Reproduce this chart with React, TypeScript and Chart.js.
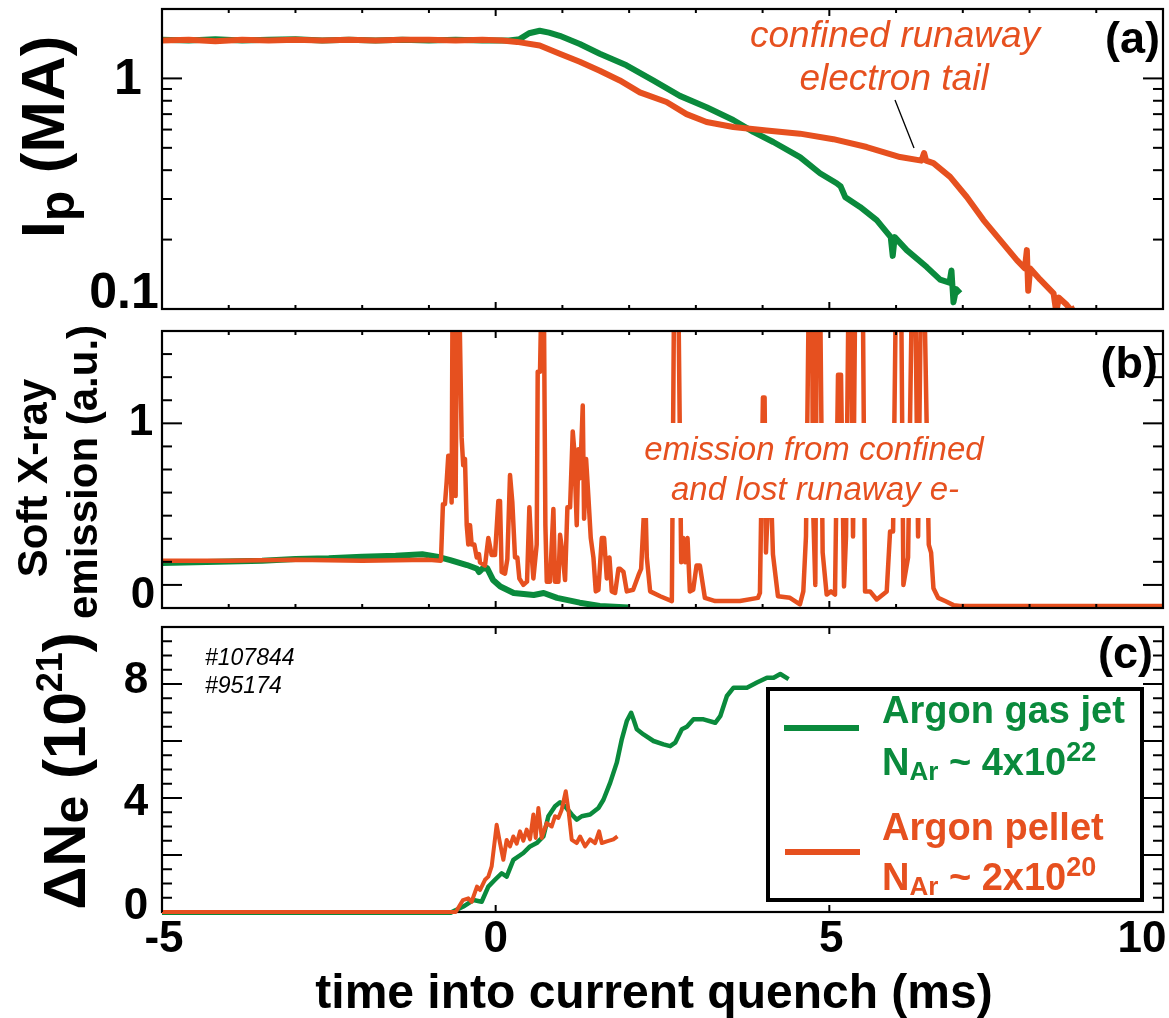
import React, { useEffect, useRef } from 'react';
import { Chart, registerables } from 'chart.js';

Chart.register(...registerables);

type Pt = [number, number];

const W = 1169;
const H = 1018;
const PLOT_LEFT = 162;
const PLOT_RIGHT = 1163;
const GREEN = '#0a8a3c';
const ORANGE = '#e6501f';
const FONT = '"Liberation Sans", Arial, Helvetica, sans-serif';

// ---------- shared time axis (ms) ----------
const timeRange = [-5, 10];
const timeMajorTicks = [-5, 0, 5, 10];
const timeTickLabels = ['-5', '0', '5', '10'];
const timeMinorTicks = [-4, -3, -2, -1, 1, 2, 3, 4, 6, 7, 8, 9];
const timeLabelNudge = [2, 0, 2, -21];

// ---------- panel (a): plasma current Ip (MA), log scale ----------
const ipRange = [0.1, 2];
const ipLabelTicks = [0.1, 1];
const ipTickLabels = ['0.1', '1'];
const ipMajorTicks = [1];
const ipMinorTicks = [0.2, 0.3, 0.4, 0.5, 0.6, 0.7, 0.8, 0.9];
const ipGasJet: Pt[] = [
  [-5.0, 1.47], [-4.6, 1.46], [-4.2, 1.48], [-3.8, 1.46], [-3.4, 1.47], [-3.0, 1.48], [-2.6, 1.46],
  [-2.2, 1.47], [-1.8, 1.46], [-1.4, 1.47], [-1.0, 1.46], [-0.6, 1.47], [-0.2, 1.46], [0.2, 1.46],
  [0.36, 1.48], [0.5, 1.57], [0.66, 1.61], [0.8, 1.58], [0.96, 1.53], [1.26, 1.41], [1.56, 1.28],
  [1.96, 1.14], [2.36, 0.98], [2.76, 0.84], [3.16, 0.75], [3.56, 0.66], [3.86, 0.586], [4.16, 0.53],
  [4.56, 0.456], [4.86, 0.388], [5.11, 0.351], [5.17, 0.34], [5.24, 0.305], [5.46, 0.277], [5.71, 0.243],
  [5.92, 0.205], [5.95, 0.17], [5.98, 0.205], [6.16, 0.18], [6.46, 0.152], [6.66, 0.134], [6.8, 0.13],
  [6.83, 0.147], [6.86, 0.107], [6.9, 0.122], [6.96, 0.117],
];
const ipPellet: Pt[] = [
  [-5.0, 1.46], [-4.6, 1.47], [-4.2, 1.45], [-3.8, 1.47], [-3.4, 1.46], [-3.0, 1.47], [-2.6, 1.46],
  [-2.2, 1.47], [-1.8, 1.46], [-1.4, 1.47], [-1.0, 1.47], [-0.6, 1.46], [-0.2, 1.47], [0.1, 1.46],
  [0.32, 1.44], [0.66, 1.39], [0.96, 1.28], [1.26, 1.18], [1.56, 1.08], [1.86, 0.98], [2.16, 0.87],
  [2.56, 0.79], [2.86, 0.70], [3.16, 0.647], [3.56, 0.616], [4.06, 0.595], [4.56, 0.576], [5.06, 0.545],
  [5.56, 0.504], [6.06, 0.456], [6.38, 0.44], [6.42, 0.475], [6.45, 0.44], [6.56, 0.429], [6.81, 0.374],
  [7.06, 0.306], [7.31, 0.243], [7.56, 0.199], [7.81, 0.163], [7.93, 0.15], [7.96, 0.18], [7.98, 0.12],
  [8.01, 0.15], [8.16, 0.134], [8.36, 0.117], [8.4, 0.097], [8.44, 0.112], [8.56, 0.104], [8.62, 0.099],
  [8.68, 0.101],
];

// ---------- panel (b): soft X-ray emission (a.u.) ----------
const sxrRange = [-1 / 7, 11 / 7];
const sxrLabelTicks = [0, 1];
const sxrTickLabels = ['0', '1'];
const sxrMajorTicks = [0, 1];
const sxrMinorTicks = [-1 / 7, 1 / 7, 2 / 7, 3 / 7, 4 / 7, 5 / 7, 6 / 7, 8 / 7, 9 / 7, 10 / 7, 11 / 7];
const sxrGasJet: Pt[] = [
  [-5, 0.135], [-4.5, 0.14], [-4, 0.145], [-3.5, 0.15], [-3, 0.16], [-2.5, 0.165], [-2, 0.175],
  [-1.5, 0.18], [-1.1, 0.19], [-0.88, 0.175], [-0.68, 0.154], [-0.43, 0.123], [-0.28, 0.10], [-0.25, 0.08],
  [-0.2, 0.1], [-0.13, 0.105], [-0.04, 0.031], [0.07, -0.01], [0.27, -0.05], [0.57, -0.062], [0.72, -0.05],
  [0.92, -0.08], [1.26, -0.11], [1.56, -0.13], [1.99, -0.14],
];
const sxrPellet: Pt[] = [
  [-5, 0.15], [-4, 0.15], [-3, 0.155], [-2, 0.15], [-1, 0.155], [-0.82, 0.15],
  [-0.79, 0.50], [-0.76, 0.5], [-0.734, 0.64], [-0.71, 0.80], [-0.68, 0.80], [-0.66, 0.51],
  [-0.645, 1.9], [-0.62, 1.9], [-0.6, 0.55], [-0.575, 1.9], [-0.55, 1.9], [-0.51, 0.91], [-0.486, 0.74],
  [-0.46, 0.78], [-0.434, 0.37], [-0.41, 0.25], [-0.384, 0.37], [-0.36, 0.25], [-0.32, 0.25], [-0.284, 0.17],
  [-0.25, 0.19], [-0.235, 0.14], [-0.16, 0.12], [-0.11, 0.29], [-0.06, 0.185], [-0.01, 0.185], [0.04, 0.52],
  [0.065, 0.52], [0.09, 0.08], [0.14, 0.07], [0.175, 0.16], [0.215, 0.68], [0.25, 0.51], [0.29, 0.17],
  [0.325, 0.17], [0.355, 0.04], [0.415, 0.0], [0.47, 0.02], [0.505, 0.48], [0.54, 0.185], [0.565, 0.04],
  [0.615, 0.25], [0.63, 1.32], [0.665, 1.32], [0.69, 1.9], [0.72, 1.9], [0.745, 0.37], [0.766, 0.02],
  [0.815, 0.02], [0.865, 0.47], [0.89, 0.02], [0.94, 0.02], [0.965, 0.31], [1.0, 0.2], [1.04, 0.03],
  [1.075, 0.48], [1.115, 0.48], [1.155, 0.95], [1.175, 0.85], [1.215, 0.37], [1.24, 0.84], [1.265, 0.66],
  [1.305, 1.11], [1.325, 0.41], [1.355, 0.78], [1.39, 0.54], [1.425, 0.29], [1.465, 0.17], [1.5, -0.04],
  [1.54, -0.03], [1.59, 0.29], [1.625, 0.29], [1.665, 0.04], [1.705, 0.17], [1.74, -0.04], [1.79, -0.05],
  [1.84, 0.1], [1.865, 0.1], [1.915, 0.08], [1.965, -0.04], [2.06, -0.03], [2.14, 0.06], [2.18, 0.1],
  [2.21, 0.35], [2.24, 0.6], [2.265, 0.17], [2.315, -0.04], [2.465, -0.07], [2.64, -0.10], [2.675, 1.9],
  [2.735, 1.9], [2.78, 0.14], [2.81, 0.29], [2.84, 0.14], [2.875, 0.29], [2.91, -0.04], [2.96, -0.03],
  [3.01, 0.12], [3.06, 0.12], [3.135, -0.08], [3.29, -0.10], [3.66, -0.10], [3.93, -0.08], [3.96, -0.05],
  [4.005, 1.16], [4.03, 1.16], [4.05, 0.2], [4.11, 0.8], [4.155, 0.19], [4.23, -0.07], [4.41, -0.08],
  [4.56, -0.12], [4.61, -0.04], [4.65, 0.3], [4.695, 1.9], [4.74, 1.9], [4.755, 0.5], [4.79, 0.0],
  [4.815, 1.9], [4.86, 1.9], [4.9, 0.2], [4.96, -0.06], [5.025, -0.04], [5.085, -0.06], [5.13, 1.30],
  [5.175, 1.30], [5.22, -0.01], [5.25, 0.3], [5.29, 1.9], [5.325, 1.9], [5.355, 0.3], [5.39, 1.9],
  [5.5, 1.9], [5.535, -0.04], [5.61, -0.04], [5.71, -0.09], [5.86, -0.04], [5.91, 0.33], [5.955, 0.33],
  [6.0, 1.9], [6.075, 1.9], [6.11, 0.0], [6.18, 0.17], [6.24, 1.9], [6.285, 1.9], [6.33, 0.3],
  [6.375, 1.9], [6.42, 1.9], [6.49, 0.25], [6.525, 0.2], [6.56, -0.02], [6.63, -0.08], [6.735, -0.1],
  [6.86, -0.125], [6.96, -0.13], [8, -0.13], [10, -0.13],
];

// ---------- panel (c): electron inventory ΔNe (10^21) ----------
const neRange = [0, 10];
const neLabelTicks = [0, 4, 8];
const neTickLabels = ['0', '4', '8'];
const neMajorTicks = [2, 4, 6, 8];
const neMinorTicks = [0.5, 1, 1.5, 2.5, 3, 3.5, 4.5, 5, 5.5, 6.5, 7, 7.5, 8.5, 9, 9.5];
const neGasJet: Pt[] = [
  [-5, -0.03], [-2, -0.03], [-0.68, -0.03], [-0.485, 0.19], [-0.335, 0.42], [-0.21, 0.36], [-0.11, 0.89],
  [-0.01, 1.13], [0.09, 1.36], [0.165, 1.24], [0.265, 1.83], [0.415, 2.07], [0.515, 2.3], [0.615, 2.42],
  [0.715, 2.65], [0.79, 3.36], [0.89, 3.71], [0.965, 3.85], [1.04, 3.71], [1.14, 3.42], [1.215, 3.24],
  [1.29, 3.36], [1.415, 3.42], [1.54, 3.65], [1.615, 3.94], [1.715, 4.53], [1.815, 5.24], [1.89, 6.06],
  [1.965, 6.7], [2.03, 6.99], [2.065, 6.76], [2.115, 6.41], [2.215, 6.23], [2.365, 6.0], [2.515, 5.88],
  [2.615, 5.82], [2.69, 5.94], [2.79, 6.41], [2.865, 6.5], [2.965, 6.76], [3.115, 6.76], [3.29, 6.64],
  [3.365, 6.87], [3.465, 7.58], [3.565, 7.87], [3.765, 7.87], [3.915, 8.05], [4.065, 8.22], [4.165, 8.22],
  [4.265, 8.35], [4.39, 8.17],
];
const nePellet: Pt[] = [
  [-5, 0], [-2.5, 0], [-0.6, 0], [-0.58, 0.07], [-0.49, 0.42], [-0.41, 0.48], [-0.36, 0.36], [-0.28, 0.89],
  [-0.235, 0.77], [-0.16, 1.13], [-0.11, 1.24], [-0.06, 1.6], [0.015, 3.06], [0.065, 2.42], [0.115, 1.83],
  [0.165, 2.53], [0.215, 2.3], [0.265, 2.65], [0.315, 2.4], [0.365, 2.83], [0.415, 2.5], [0.465, 2.89],
  [0.515, 2.55], [0.565, 3.42], [0.6, 2.6], [0.64, 3.65], [0.69, 2.6], [0.765, 3.12], [0.84, 3.0],
  [0.89, 3.36], [0.94, 3.3], [0.99, 3.59], [1.05, 4.24], [1.09, 3.59], [1.14, 2.53], [1.215, 2.42],
  [1.265, 2.65], [1.34, 2.3], [1.415, 2.55], [1.49, 2.42], [1.55, 2.83], [1.59, 2.42], [1.665, 2.48],
  [1.765, 2.55], [1.825, 2.65],
];

// ---------- drawing helpers ----------
type Part = { t: string; size: number; dy?: number; style?: string; color?: string };

function seg(ctx: CanvasRenderingContext2D, x1: number, y1: number, x2: number, y2: number) {
  ctx.beginPath();
  ctx.moveTo(x1, y1);
  ctx.lineTo(x2, y2);
  ctx.stroke();
}

function drawRich(
  ctx: CanvasRenderingContext2D,
  parts: Part[],
  x: number,
  y: number,
  color: string,
  align: 'left' | 'center' = 'center',
  rotate = false,
) {
  ctx.save();
  ctx.translate(x, y);
  if (rotate) ctx.rotate(-Math.PI / 2);
  ctx.textBaseline = 'alphabetic';
  ctx.textAlign = 'left';
  const fontOf = (p: Part) => `${p.style ?? 'bold'} ${p.size}px ${FONT}`;
  const widths = parts.map((p) => {
    ctx.font = fontOf(p);
    return ctx.measureText(p.t).width;
  });
  const total = widths.reduce((a, b) => a + b, 0);
  let u = align === 'center' ? -total / 2 : 0;
  parts.forEach((p, i) => {
    ctx.font = fontOf(p);
    ctx.fillStyle = p.color ?? color;
    ctx.fillText(p.t, u, p.dy ?? 0);
    u += widths[i];
  });
  ctx.restore();
}

function drawFrame(chart: any) {
  const { ctx, chartArea: a } = chart;
  ctx.save();
  ctx.strokeStyle = '#000';
  ctx.lineWidth = 2.2;
  ctx.strokeRect(a.left, a.top, a.right - a.left, a.bottom - a.top);
  ctx.restore();
}

function drawTicks(
  chart: any,
  xMajor: number[],
  xMinor: number[],
  yMajor: number[],
  yMinor: number[],
) {
  const { ctx, chartArea: a, scales } = chart;
  ctx.save();
  ctx.strokeStyle = '#000';
  ctx.lineWidth = 2;
  xMajor.forEach((v) => {
    const p = scales.x.getPixelForValue(v);
    seg(ctx, p, a.bottom, p, a.bottom - 7);
    seg(ctx, p, a.top, p, a.top + 7);
  });
  xMinor.forEach((v) => {
    const p = scales.x.getPixelForValue(v);
    seg(ctx, p, a.bottom, p, a.bottom - 4);
    seg(ctx, p, a.top, p, a.top + 4);
  });
  yMajor.forEach((v) => {
    const p = scales.y.getPixelForValue(v);
    seg(ctx, a.left, p, a.left + 20, p);
    seg(ctx, a.right, p, a.right - 20, p);
  });
  yMinor.forEach((v) => {
    const p = scales.y.getPixelForValue(v);
    seg(ctx, a.left, p, a.left + 10, p);
    seg(ctx, a.right, p, a.right - 10, p);
  });
  ctx.restore();
}

function drawYLabels(chart: any, values: number[], labels: string[], size: number, cx: number[], dy: number[]) {
  const { ctx, scales } = chart;
  ctx.save();
  ctx.font = `bold ${size}px ${FONT}`;
  ctx.fillStyle = '#000';
  ctx.textAlign = 'center';
  ctx.textBaseline = 'alphabetic';
  values.forEach((v, i) => {
    const p = scales.y.getPixelForValue(v) + dy[i];
    ctx.fillText(labels[i], cx[i], p + 0.358 * size);
  });
  ctx.restore();
}

function drawPlain(ctx: CanvasRenderingContext2D, text: string, x: number, y: number, font: string, color: string, align: CanvasTextAlign = 'center') {
  ctx.save();
  ctx.font = font;
  ctx.fillStyle = color;
  ctx.textAlign = align;
  ctx.textBaseline = 'alphabetic';
  ctx.fillText(text, x, y);
  ctx.restore();
}

// ---------- panel decorations ----------
function decorA(chart: any) {
  const { ctx } = chart;
  drawFrame(chart);
  drawTicks(chart, timeMajorTicks, timeMinorTicks, ipMajorTicks, ipMinorTicks);
  drawYLabels(chart, ipLabelTicks, ipTickLabels, 50, [124, 128], [-19, -2]);
  drawRich(ctx, [{ t: 'I', size: 62 }, { t: 'p', size: 50, dy: 10 }, { t: ' (MA)', size: 62 }], 64, 137, '#000', 'center', true);
  drawPlain(ctx, '(a)', 1160, 53, `bold 45px ${FONT}`, '#000', 'right');
  drawPlain(ctx, 'confined runaway', 895, 47, `italic 37px ${FONT}`, ORANGE);
  drawPlain(ctx, 'electron tail', 894, 90, `italic 37px ${FONT}`, ORANGE);
  ctx.save();
  ctx.strokeStyle = '#000';
  ctx.lineWidth = 1.3;
  seg(ctx, 895, 100, 914, 148);
  ctx.restore();
}

function decorB(chart: any) {
  const { ctx } = chart;
  ctx.save();
  ctx.fillStyle = '#fff';
  ctx.fillRect(640, 423, 350, 95);
  ctx.restore();
  drawFrame(chart);
  drawTicks(chart, timeMajorTicks, timeMinorTicks, sxrMajorTicks, sxrMinorTicks);
  drawYLabels(chart, sxrLabelTicks, sxrTickLabels, 44, [143, 141], [7, -4]);
  drawRich(ctx, [{ t: 'Soft X-ray', size: 42 }], 47, 478, '#000', 'center', true);
  drawRich(ctx, [{ t: 'emission (a.u.)', size: 42 }], 97, 472, '#000', 'center', true);
  drawPlain(ctx, '(b)', 1158, 378, `bold 45px ${FONT}`, '#000', 'right');
  drawPlain(ctx, 'emission from confined', 814, 460, `italic 33px ${FONT}`, ORANGE);
  drawPlain(ctx, 'and lost runaway e-', 815, 500, `italic 33px ${FONT}`, ORANGE);
}

function decorC(chart: any) {
  const { ctx, scales } = chart;
  drawTicks(chart, timeMajorTicks, [], neMajorTicks, neMinorTicks);
  drawYLabels(chart, neLabelTicks, neTickLabels, 44, [136, 136, 136], [-9, 1, -7]);
  // time tick labels
  ctx.save();
  ctx.font = `bold 44px ${FONT}`;
  ctx.fillStyle = '#000';
  ctx.textAlign = 'center';
  timeMajorTicks.forEach((v, i) => {
    const p = scales.x.getPixelForValue(v) + timeLabelNudge[i];
    ctx.fillText(timeTickLabels[i], p, 952);
  });
  ctx.restore();
  drawPlain(ctx, 'time into current quench (ms)', 654, 1008, `bold 48px ${FONT}`, '#000');
  drawRich(
    ctx,
    [
      { t: 'ΔN', size: 60 },
      { t: 'e', size: 50, dy: 3 },
      { t: ' (10', size: 60 },
      { t: '21', size: 36, dy: -23 },
      { t: ')', size: 60 },
    ],
    85,
    771,
    '#000',
    'center',
    true,
  );
  drawPlain(ctx, '(c)', 1153, 668, `bold 45px ${FONT}`, '#000', 'right');
  drawPlain(ctx, '#107844', 205, 665, `italic 23px ${FONT}`, '#000', 'left');
  drawPlain(ctx, '#95174', 205, 693, `italic 23px ${FONT}`, '#000', 'left');
  // legend
  ctx.save();
  ctx.fillStyle = '#fff';
  ctx.fillRect(768, 689, 374, 211);
  ctx.strokeStyle = '#000';
  ctx.lineWidth = 4;
  ctx.strokeRect(768, 689, 374, 211);
  ctx.lineWidth = 6;
  ctx.strokeStyle = GREEN;
  seg(ctx, 784, 728, 859, 728);
  ctx.strokeStyle = ORANGE;
  seg(ctx, 785, 852, 860, 852);
  ctx.restore();
  drawPlain(ctx, 'Argon gas jet', 882, 723, `bold 38px ${FONT}`, GREEN, 'left');
  drawRich(
    ctx,
    [
      { t: 'N', size: 38 },
      { t: 'Ar', size: 26, dy: 5 },
      { t: ' ~ 4x10', size: 38 },
      { t: '22', size: 27, dy: -14 },
    ],
    882,
    775,
    GREEN,
    'left',
  );
  drawPlain(ctx, 'Argon pellet', 882, 840, `bold 38px ${FONT}`, ORANGE, 'left');
  drawRich(
    ctx,
    [
      { t: 'N', size: 38 },
      { t: 'Ar', size: 26, dy: 5 },
      { t: ' ~ 2x10', size: 38 },
      { t: '20', size: 27, dy: -14 },
    ],
    882,
    890,
    ORANGE,
    'left',
  );
}

type Series = { data: Pt[]; color: string; width: number; order: number };
type PanelCfg = {
  id: string;
  top: number;
  bottom: number;
  yType: 'linear' | 'logarithmic';
  yRange: number[];
  series: Series[];
  clip: any;
  frameFirst: boolean;
  decor: (chart: any) => void;
};

// lower "order" is drawn on top (orange pellet above green gas jet)
const panels: PanelCfg[] = [
  {
    id: 'a',
    top: 9,
    bottom: 309,
    yType: 'logarithmic',
    yRange: ipRange,
    series: [
      { data: ipGasJet, color: GREEN, width: 6, order: 2 },
      { data: ipPellet, color: ORANGE, width: 6, order: 1 },
    ],
    clip: 0,
    frameFirst: false,
    decor: decorA,
  },
  {
    id: 'b',
    top: 331,
    bottom: 608,
    yType: 'linear',
    yRange: sxrRange,
    series: [
      { data: sxrGasJet, color: GREEN, width: 6, order: 2 },
      { data: sxrPellet, color: ORANGE, width: 4.5, order: 1 },
    ],
    clip: 0,
    frameFirst: false,
    decor: decorB,
  },
  {
    id: 'c',
    top: 627,
    bottom: 912,
    yType: 'linear',
    yRange: neRange,
    series: [
      { data: neGasJet, color: GREEN, width: 4.5, order: 2 },
      { data: nePellet, color: ORANGE, width: 4, order: 1 },
    ],
    clip: { left: 0, top: 0, right: 0, bottom: 3 },
    frameFirst: true,
    decor: decorC,
  },
];

function makeChart(canvas: HTMLCanvasElement, cfg: PanelCfg) {
  return new Chart(canvas, {
    type: 'line',
    data: {
      datasets: cfg.series.map((s) => ({
        data: s.data.map(([x, y]) => ({ x, y })),
        order: s.order,
        borderColor: s.color,
        backgroundColor: s.color,
        borderWidth: s.width,
        pointRadius: 0,
        pointHoverRadius: 0,
        fill: false,
        tension: 0,
        borderJoinStyle: 'round',
        borderCapStyle: 'butt',
        clip: cfg.clip,
      })),
    } as any,
    options: {
      responsive: false,
      animation: false,
      devicePixelRatio: 1,
      events: [],
      layout: {
        padding: { left: PLOT_LEFT, right: W - PLOT_RIGHT, top: cfg.top, bottom: H - cfg.bottom },
      },
      plugins: { legend: { display: false }, tooltip: { enabled: false }, title: { display: false } },
      scales: {
        x: { type: 'linear', min: timeRange[0], max: timeRange[1], display: false },
        y: { type: cfg.yType, min: cfg.yRange[0], max: cfg.yRange[1], display: false },
      },
    } as any,
    plugins: [
      {
        id: 'decor_' + cfg.id,
        beforeDatasetsDraw: (c: any) => {
          if (cfg.frameFirst) drawFrame(c);
        },
        afterDraw: (c: any) => cfg.decor(c),
      },
    ],
  });
}

export default function App() {
  const refA = useRef<HTMLCanvasElement>(null);
  const refB = useRef<HTMLCanvasElement>(null);
  const refC = useRef<HTMLCanvasElement>(null);

  useEffect(() => {
    const refs = [refA, refB, refC];
    const charts = panels.map((p, i) => makeChart(refs[i].current as HTMLCanvasElement, p));
    return () => charts.forEach((c) => c.destroy());
  }, []);

  const style: React.CSSProperties = { position: 'absolute', left: 0, top: 0, width: W, height: H };
  return (
    <div style={{ position: 'absolute', left: 0, top: 0, width: W, height: H, background: '#fff', overflow: 'hidden' }}>
      <canvas ref={refA} width={W} height={H} style={style} />
      <canvas ref={refB} width={W} height={H} style={style} />
      <canvas ref={refC} width={W} height={H} style={style} />
    </div>
  );
}
